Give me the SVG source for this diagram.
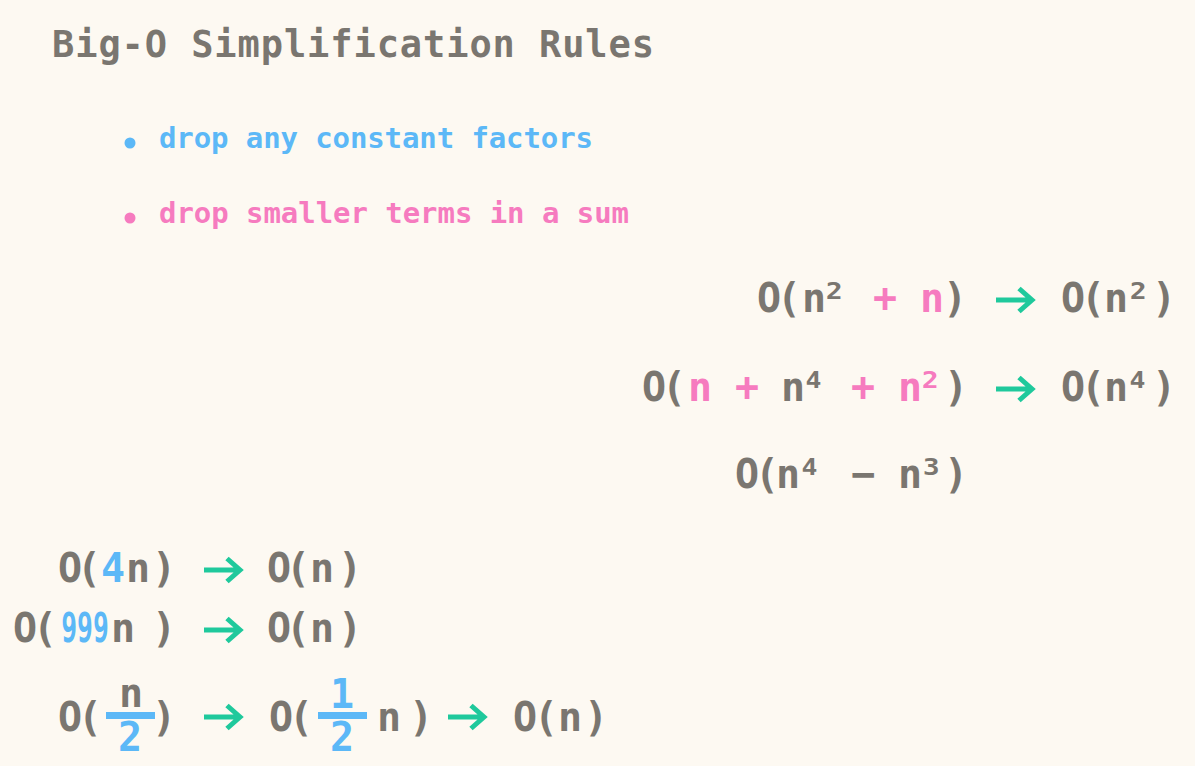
<svg xmlns="http://www.w3.org/2000/svg" xmlns:xlink="http://www.w3.org/1999/xlink" width="1195" height="766" viewBox="0 0 1195 766">
<defs>
<style>
.t{font-family:"DejaVu Sans Mono","Liberation Mono",monospace;font-weight:bold}
.m{font-family:"DejaVu Sans Mono","Liberation Mono",monospace;font-weight:bold;font-size:40px;text-anchor:middle;fill:#7a7670}
.g{fill:#7a7670}
.b, .m.b, .m .b{fill:#5cb8f7}
.p, .m.p, .m .p{fill:#f67bbf}
.arr{fill:none;stroke:#1fc99c;stroke-width:5;stroke-linejoin:miter;stroke-linecap:butt}
</style>
<path id="arrow" class="arr" d="M0,0 H36 M23,-11.5 L36,0 L23,11.5"/>
</defs>
<rect width="1195" height="766" fill="#fdf9f2"/>
<g id="title">
<text class="t g" x="52" y="57" font-size="37" textLength="602">Big-O Simplification Rules</text>
</g>
<g id="rule-constants">
<circle class="b" cx="130" cy="143" r="5.5"/>
<text class="t b" x="159" y="148" font-size="29" textLength="434">drop any constant factors</text>
</g>
<g id="rule-sum">
<circle class="p" cx="130" cy="218" r="5.5"/>
<text class="t p" x="159" y="223" font-size="29" textLength="470">drop smaller terms in a sum</text>
</g>
<g id="expr-sum1">
<text class="m" x="769 789 814 834 858 885 908 932 955" y="312">O(n² <tspan class="p">+ n</tspan>)</text>
<text class="m" x="1073 1093 1116 1138 1164" y="312">O(n²)</text>
</g>
<g id="expr-sum2">
<text class="m" x="654 674 700 724 747 770 793 814 838 863 886 910 930 956" y="401">O(<tspan class="p">n + </tspan>n⁴ <tspan class="p">+ n²</tspan>)</text>
<text class="m" x="1073 1093 1116 1138 1164" y="401">O(n⁴)</text>
</g>
<g id="expr-diff">
<text class="m" x="747 767 788 810 835 863 887 910 931 956" y="488">O(n⁴ − n³)</text>
</g>
<g id="expr-4n">
<text class="m" x="70 89 113 138 164" y="582">O(<tspan class="b">4</tspan>n)</text>
<text class="m" x="279 298 322 350" y="582">O(n)</text>
</g>
<g id="expr-999n">
<text class="m" x="25 45" y="642">O(</text>
<text class="m b" x="0" y="0" transform="translate(85,642) scale(0.66,1)">999</text>
<text class="m" x="123 164" y="642">n)</text>
<text class="m" x="279 298 322 350" y="642">O(n)</text>
</g>
<g id="expr-half">
<text class="m" x="70 90" y="731">O(</text>
<text class="m" x="131" y="707">n</text>
<rect class="b" x="106" y="712" width="49" height="7"/>
<text class="m b" x="130" y="751">2</text>
<text class="m" x="164" y="731">)</text>
<text class="m" x="281 301" y="731">O(</text>
<text class="m b" x="342" y="708">1</text>
<rect class="b" x="318" y="712" width="49" height="7"/>
<text class="m b" x="342" y="751">2</text>
<text class="m" x="389 421" y="731">n)</text>
<text class="m" x="525 546 570 596" y="731">O(n)</text>
</g>
<g id="connectors">
<use xlink:href="#arrow" x="996" y="300"/>
<use xlink:href="#arrow" x="996" y="389"/>
<use xlink:href="#arrow" x="204" y="570"/>
<use xlink:href="#arrow" x="204" y="630"/>
<use xlink:href="#arrow" x="204" y="717"/>
<use xlink:href="#arrow" x="448" y="717"/>
</g>
</svg>
